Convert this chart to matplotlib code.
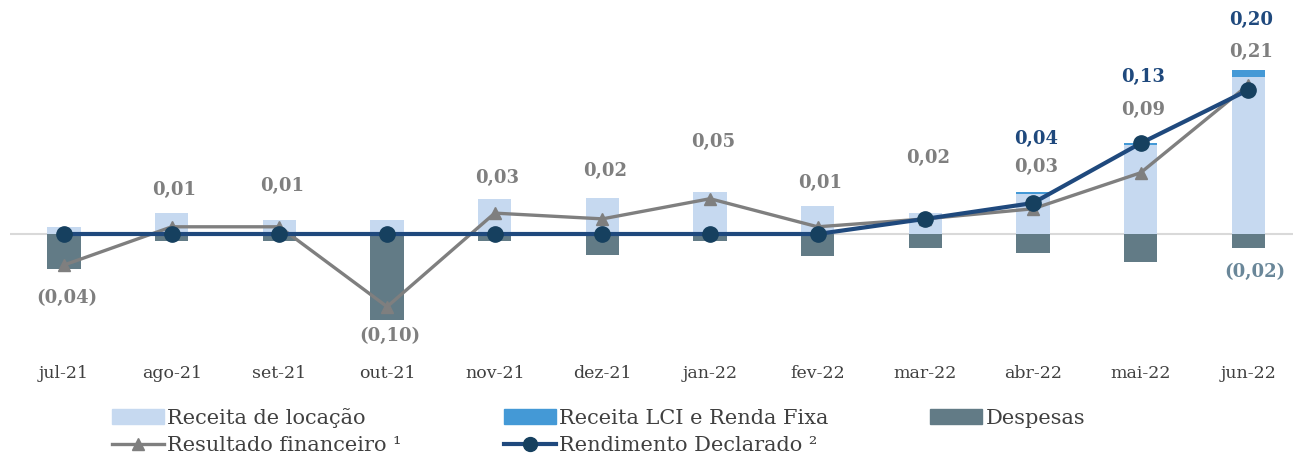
import numpy as np
import matplotlib
matplotlib.use("Agg")
import matplotlib.pyplot as plt
from matplotlib.patches import Patch
from matplotlib.lines import Line2D

plt.rcParams['font.family'] = ['DejaVu Serif']

meses = ["jul-21", "ago-21", "set-21", "out-21", "nov-21", "dez-21",
         "jan-22", "fev-22", "mar-22", "abr-22", "mai-22", "jun-22"]
receita_locacao = [0.010, 0.029, 0.019, 0.019, 0.049, 0.050,
                   0.058, 0.039, 0.029, 0.056, 0.124, 0.218]
receita_lci = [0.0, 0.0, 0.0, 0.0, 0.0, 0.0,
               0.0, 0.0, 0.0, 0.002, 0.003, 0.010]
despesas = [-0.049, -0.010, -0.010, -0.120, -0.010, -0.029,
            -0.010, -0.030, -0.020, -0.026, -0.039, -0.020]
resultado = [-0.043, 0.010, 0.010, -0.101, 0.029, 0.021,
             0.049, 0.010, 0.021, 0.035, 0.085, 0.207]
rendimento = [0.0, 0.0, 0.0, 0.0, 0.0, 0.0,
              0.0, 0.0, 0.021, 0.043, 0.126, 0.200]
resultado_txt = ["(0,04)", "0,01", "0,01", "(0,10)", "0,03", "0,02",
                 "0,05", "0,01", "0,02", "0,03", "0,09", "0,21"]
rendimento_txt = {9: "0,04", 10: "0,13", 11: "0,20"}
despesas_txt = {11: "(0,02)"}

# label offsets in pixels above the result point (negative = below)
off_res = [-33, 37, 41, -29, 35, 48, 57, 44, 61, 42, 63, 33]
off_rend = {9: 64, 10: 66, 11: 70}

c_loc = "#C6D9F0"
c_lci = "#4499D6"
c_desp = "#627B86"
c_res = "#7F7F7F"
c_rend = "#1F497D"
c_dot = "#16405F"

fig = plt.figure(figsize=(12.93, 4.62), dpi=100)
ax = fig.add_axes([0.008, 1 - 355 / 462, 0.999, (355 - 20) / 462])

x = np.arange(len(meses))
w = 0.31
loc = np.array(receita_locacao)
ax.axhline(0, color="#D9D9D9", lw=1.5, zorder=1)
ax.bar(x, loc, w, color=c_loc, zorder=2)
ax.bar(x, receita_lci, w, bottom=loc, color=c_lci, zorder=2)
ax.bar(x, despesas, w, color=c_desp, zorder=2)
ax.plot(x, resultado, color=c_res, lw=2.4, marker="^", ms=8, zorder=3)
ax.plot(x, rendimento, color=c_rend, lw=3, marker="o", ms=11,
        mfc=c_dot, mec=c_dot, zorder=4)

pt = 0.72
for i, t in enumerate(resultado_txt):
    ax.annotate(t, (x[i], resultado[i]), xytext=(2, off_res[i] * pt),
                textcoords="offset points", ha="center", va="center",
                fontsize=13, fontweight="bold", color=c_res)
for i, t in rendimento_txt.items():
    ax.annotate(t, (x[i], rendimento[i]), xytext=(2, off_rend[i] * pt),
                textcoords="offset points", ha="center", va="center",
                fontsize=13, fontweight="bold", color=c_rend)
for i, t in despesas_txt.items():
    ax.annotate(t, (x[i], despesas[i]), xytext=(5, -24 * pt),
                textcoords="offset points", ha="center", va="center",
                fontsize=13, fontweight="bold", color="#6A8799")

ax.set_xlim(-0.5, 11.5)
ax.set_ylim(-(355 - 234) / 720, (234 - 20) / 720)
ax.set_xticks(x)
ax.set_xticklabels(meses, fontsize=12.5, color="#404040")
ax.tick_params(axis="x", length=0, pad=7)
ax.set_yticks([])
for s in ax.spines.values():
    s.set_visible(False)

h_loc = Patch(color=c_loc, label="Receita de locação")
h_lci = Patch(color=c_lci, label="Receita LCI e Renda Fixa")
h_desp = Patch(color=c_desp, label="Despesas")
h_res = Line2D([], [], color=c_res, lw=2.4, marker="^", ms=8,
               label="Resultado financeiro ¹")
h_rend = Line2D([], [], color=c_rend, lw=3, marker="o", ms=10,
                mfc=c_dot, mec=c_dot, label="Rendimento Declarado ²")
leg = fig.legend(handles=[h_loc, h_res, h_lci, h_rend, h_desp], ncol=3,
                 loc="upper left", bbox_to_anchor=(112 / 1293, 1 - 408 / 462),
                 frameon=False, fontsize=15, handlelength=2.5,
                 handleheight=0.75, handletextpad=0.15, labelspacing=0.4,
                 columnspacing=4.9, borderpad=0, borderaxespad=0,
                 labelcolor="#404040")

fig.savefig("out.png", dpi=100)
